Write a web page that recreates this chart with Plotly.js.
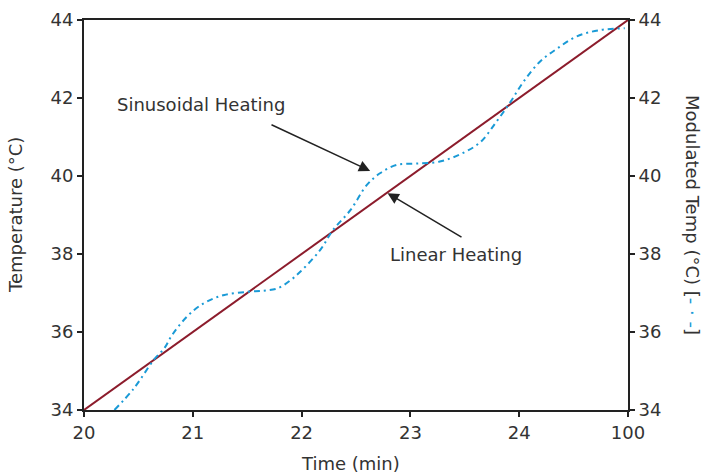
<!DOCTYPE html>
<html><head><meta charset="utf-8">
<script src="https://cdn.plot.ly/plotly-3.0.1.min.js"></script>
<style>body{margin:0;background:#fff}#c{width:707px;height:474px}</style>
</head><body><div id="c"></div>
<script>
const linearTime = [20, 25];
const linearTemp = [34, 44];
const modTime = [20.28, 20.46, 20.64, 20.74, 20.8, 20.89, 21.01, 21.13, 21.29, 21.5, 21.65, 21.78, 21.9, 21.99, 22.17, 22.29, 22.45, 22.6, 22.72, 22.87, 23.06, 23.27, 23.46, 23.64, 23.79, 23.92, 24.04, 24.19, 24.35, 24.53, 24.74, 24.97];
const modTemp = [34.0, 34.56, 35.28, 35.59, 35.88, 36.22, 36.56, 36.78, 36.95, 37.03, 37.06, 37.12, 37.33, 37.55, 38.1, 38.62, 39.13, 39.77, 40.07, 40.28, 40.32, 40.37, 40.56, 40.86, 41.39, 41.9, 42.42, 42.93, 43.27, 43.58, 43.74, 43.79];
const xTickVals = [20, 21, 22, 23, 24, 25];
const xTickText = ['20', '21', '22', '23', '24', '100'];
const yTickVals = [34, 36, 38, 40, 42, 44];

const F = '"DejaVu Sans", sans-serif';
const TC = '#333';
const FS = 18;
const traces = [
  {x: linearTime, y: linearTemp, mode: 'lines', line: {color: '#8c1c2c', width: 2}, hoverinfo: 'skip'},
  {x: modTime, y: modTemp, mode: 'lines', line: {color: '#1a9ad6', width: 2, shape: 'spline', dash: '6px,4px,2px,4px'}, hoverinfo: 'skip'},
  {x: [20], y: [34], yaxis: 'y2', mode: 'markers', marker: {opacity: 0}, hoverinfo: 'skip'}
];
const axCommon = {showgrid: false, zeroline: false, showline: true, linecolor: '#222', linewidth: 2,
  ticks: 'outside', ticklen: 5, tickwidth: 2, tickcolor: '#222', tickfont: {family: F, size: FS, color: TC}};
const px2x = p => 20 + (p - 84) / (628 - 84) * 5;
const px2y = p => 34 + (410 - p) / (410 - 20) * 10;
const layout = {
  width: 707, height: 474, showlegend: false,
  paper_bgcolor: '#fff', plot_bgcolor: '#fff',
  margin: {l: 84, r: 79, t: 20, b: 64},
  xaxis: Object.assign({}, axCommon, {range: [20, 25], tickvals: xTickVals, ticktext: xTickText, mirror: true}),
  yaxis: Object.assign({}, axCommon, {range: [34, 44], tickvals: yTickVals}),
  yaxis2: Object.assign({}, axCommon, {range: [34, 44], tickvals: yTickVals, overlaying: 'y', side: 'right'}),
  annotations: [
    {xref: 'paper', yref: 'paper', x: (693 - 84) / 544, y: 0.5, xanchor: 'center', yanchor: 'middle',
      text: 'Modulated Temp (°C) [<span style="color:#1a9ad6">- · -</span>]',
      textangle: 90, showarrow: false, font: {family: F, size: FS, color: TC}},
    {xref: 'paper', yref: 'paper', x: (15 - 84) / 544, y: 0.5, xanchor: 'center', yanchor: 'middle',
      text: 'Temperature (°C)', textangle: -90, showarrow: false, font: {family: F, size: FS, color: TC}},
    {xref: 'paper', yref: 'paper', x: (350 - 84) / 544, y: -(463 - 410) / 390, xanchor: 'center', yanchor: 'middle',
      text: 'Time (min)', showarrow: false, font: {family: F, size: FS, color: TC}},
    {x: 22.63, y: 40.13, ax: px2x(270), ay: px2y(124), axref: 'x', ayref: 'y', text: '', showarrow: true,
      arrowhead: 2, arrowsize: 1.5, arrowwidth: 1.5, arrowcolor: '#222', standoff: 0},
    {x: 22.79, y: 39.56, ax: px2x(463), ay: px2y(238), axref: 'x', ayref: 'y', text: '', showarrow: true,
      arrowhead: 2, arrowsize: 1.5, arrowwidth: 1.5, arrowcolor: '#222', standoff: 0},
    {x: px2x(201), y: px2y(104), text: 'Sinusoidal Heating', showarrow: false, font: {family: F, size: FS, color: TC}},
    {x: px2x(456), y: px2y(254), text: 'Linear Heating', showarrow: false, font: {family: F, size: FS, color: TC}}
  ]
};
Plotly.newPlot('c', traces, layout, {displayModeBar: false, staticPlot: true});
</script></body></html>
